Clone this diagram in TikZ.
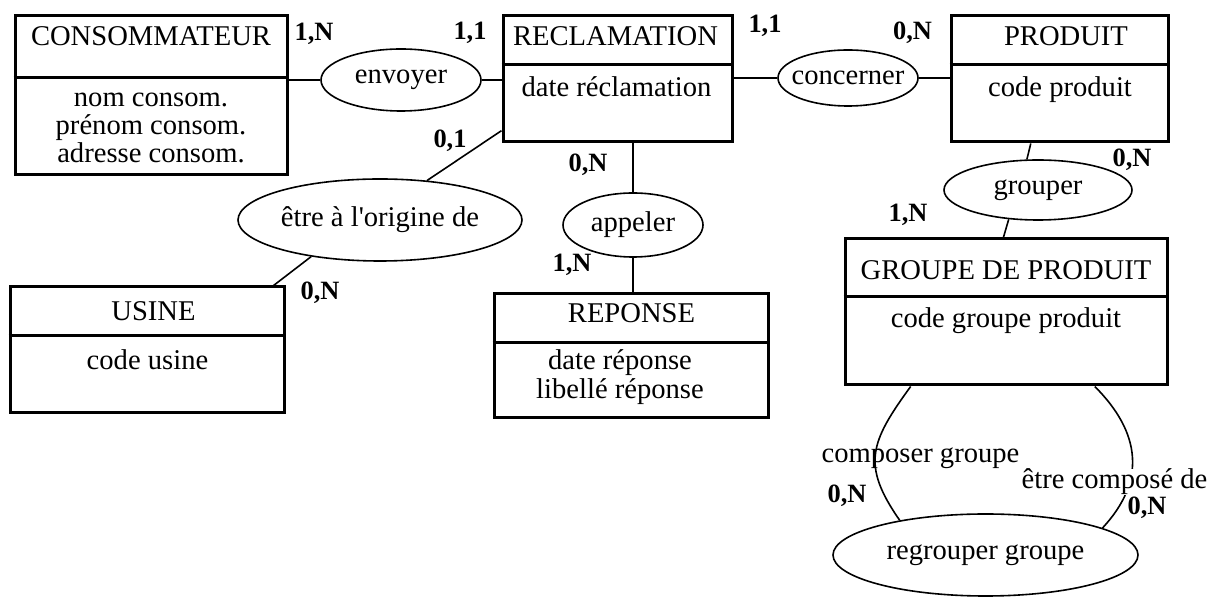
\documentclass[tikz,border=0pt]{standalone}
\usepackage{fontspec}
\setmainfont{Liberation Serif}[Ligatures=TeXOff]
\usetikzlibrary{shapes.geometric,fit}

\begin{document}
\begin{tikzpicture}[
  x=0.5pt, y=-0.5pt,
  ent/.style={draw, line width=1.5pt, inner sep=0pt},
  sep/.style={line width=1.5pt},
  rel/.style={ellipse, draw, line width=0.8pt, inner xsep=-6pt, inner ysep=-3pt,
              font=\fontsize{14.3}{14.2}\selectfont},
  ttl/.style={font=\fontsize{14.3}{14.2}\selectfont, inner sep=0pt, anchor=base},
  attr/.style={font=\fontsize{14.3}{14.2}\selectfont, inner sep=0pt, align=center},
  card/.style={font=\fontsize{13.2}{15}\selectfont\bfseries, inner sep=0pt, anchor=base},
  lnk/.style={line width=0.8pt},
]
\useasboundingbox (0,0) rectangle (1210,597);

% entites
\node[ent, fit={(15,16) (287,175)}]    (cons)  {};
\node[ent, fit={(503,16) (732,142)}]   (recl)  {};
\node[ent, fit={(951,16) (1168,142)}]  (prod)  {};
\node[ent, fit={(10,287) (284,413)}]   (usine) {};
\node[ent, fit={(494,294) (768,418)}]  (rep)   {};
\node[ent, fit={(845,239) (1167,385)}] (grpe)  {};

\draw[sep] (cons.west |- 0,78)   -- (cons.east |- 0,78);
\draw[sep] (recl.west |- 0,65)   -- (recl.east |- 0,65);
\draw[sep] (prod.west |- 0,65)   -- (prod.east |- 0,65);
\draw[sep] (usine.west |- 0,336) -- (usine.east |- 0,336);
\draw[sep] (rep.west |- 0,343)   -- (rep.east |- 0,343);
\draw[sep] (grpe.west |- 0,297)  -- (grpe.east |- 0,297);

\node[ttl] (consT)  at (151,46)    {CONSOMMATEUR};
\node[ttl] (reclT)  at (615.5,46)  {RECLAMATION};
\node[ttl] (prodT)  at (1066,46)   {PRODUIT};
\node[ttl] (usineT) at (153.5,321) {USINE};
\node[ttl] (repT)   at (631.5,323) {REPONSE};
\node[ttl] (grpeT)  at (1006,280)  {GROUPE DE PRODUIT};

\node[attr] (consA)  at (151,128)   {nom consom.\\prénom consom.\\adresse consom.};
\node[ttl]  (reclA)  at (616.5,97)  {date réclamation};
\node[ttl]  (prodA)  at (1060,97)   {code produit};
\node[ttl]  (usineA) at (147.5,370) {code usine};
\node[attr] (repA)   at (620,377)   {date réponse\\libellé réponse};
\node[ttl]  (grpeA)  at (1006,328)  {code groupe produit};

% associations
\node[rel, minimum width=80pt, minimum height=31pt]      (env)  at (401,80)    {envoyer};
\node[rel, minimum width=70pt, minimum height=28pt]      (conc) at (848,78)    {concerner};
\node[rel, minimum width=142pt, minimum height=41pt]     (orig) at (380,220)   {être à l'origine de};
\node[rel, minimum width=70pt, minimum height=32pt]      (app)  at (633,225)   {appeler};
\node[rel, minimum width=94pt, minimum height=30pt]      (grp)  at (1038,190)  {grouper};
\node[rel, minimum width=152.5pt, minimum height=41pt]   (regr) at (985.5,555) {regrouper groupe};

% pattes
\draw[lnk] (env.west -| cons.east) -- (env.west);
\draw[lnk] (env.east) -- (env.east -| recl.west);
\draw[lnk] (conc.west -| recl.east) -- (conc.west);
\draw[lnk] (conc.east) -- (conc.east -| prod.west);
\draw[lnk] (recl.204) -- (orig.40);
\draw[lnk] (orig.208) -- (usine.27);
\draw[lnk] (app.north |- recl.south) -- (app.north);
\draw[lnk] (app.south) -- (app.south |- rep.north);
\draw[lnk] (prod.246) -- (grp.110);
\draw[lnk] (grp.225) -- (grpe.92);
% association reflexive
\draw[lnk] (grpe.218) to[out=234, in=125, looseness=1.3]  (regr.158);
\draw[lnk] (grpe.320) to[out=315, in=47, looseness=1.17]  (regr.13);

\node[ttl] (roleA) at (920.5,463) {composer groupe};
\node[ttl, fill=white] (roleB) at (1114.5,489) {être composé de};

% cardinalites
\node[card] (c1)  at (314,41)    {1,N};
\node[card] (c2)  at (470,40)    {1,1};
\node[card] (c3)  at (765,33)    {1,1};
\node[card] (c4)  at (912.5,40)  {0,N};
\node[card] (c5)  at (450,148)   {0,1};
\node[card] (c6)  at (588,172)   {0,N};
\node[card] (c7)  at (572,272)   {1,N};
\node[card] (c8)  at (320,300)   {0,N};
\node[card] (c9)  at (1132,167)  {0,N};
\node[card] (c10) at (908,222)   {1,N};
\node[card] (c11) at (847,503)   {0,N};
\node[card] (c12) at (1147,515)  {0,N};
\end{tikzpicture}
\end{document}
